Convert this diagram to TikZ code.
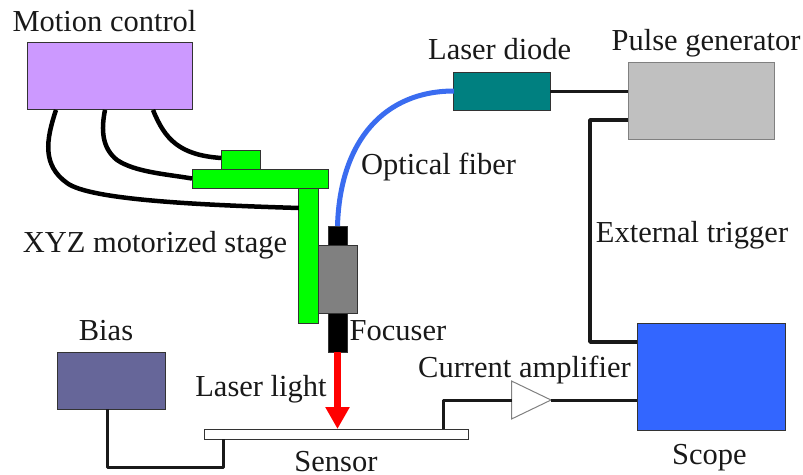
\documentclass[tikz,border=0pt]{standalone}
\usepackage{fontspec}
\setmainfont{Liberation Serif}
\usetikzlibrary{shapes.geometric,arrows.meta}
\definecolor{cpurple}{HTML}{CC99FF}
\definecolor{cgreen}{HTML}{00FF00}
\definecolor{cteal}{HTML}{008080}
\definecolor{clgray}{HTML}{C0C0C0}
\definecolor{cmgray}{HTML}{808080}
\definecolor{cblue}{HTML}{3366FF}
\definecolor{cbias}{HTML}{666699}
\definecolor{cfiber}{HTML}{3A6CF0}
\definecolor{cedge}{HTML}{333333}
\tikzset{
  box/.style={draw=cedge,line width=1pt,inner sep=0pt,outer sep=0pt,rectangle},
  lbl/.style={anchor=base,inner sep=0pt,outer sep=0pt,font=\fontsize{30.5}{31}\selectfont,text=black!90},
  cable/.style={draw=black,line width=4.5pt},
  wire/.style={draw=black!90,line width=3pt,line join=round},
}
\begin{document}
\begin{tikzpicture}[x=1pt,y=-1pt]
\useasboundingbox (0,0) rectangle (803,474);
% boxes
\node[box,fill=cpurple,minimum width=165pt,minimum height=67.5pt] (motion) at (110,76.2) {};
\node[box,fill=cgreen,minimum width=39pt,minimum height=19pt] (stageA) at (240.5,159.5) {};
\node[box,fill=cgreen,minimum width=136pt,minimum height=19pt] (stageB) at (260,178.5) {};
\node[box,fill=cgreen,minimum width=19.5pt,minimum height=135pt] (stageC) at (308.7,255.5) {};
\node[box,fill=black,minimum width=19pt,minimum height=20pt] (focTop) at (337.5,236) {};
\node[box,fill=black,minimum width=19pt,minimum height=39pt] (focBot) at (337.5,332.5) {};
\node[box,fill=cmgray,minimum width=39pt,minimum height=67.5pt] (focuser) at (337.5,279.7) {};
\node[box,fill=white,minimum width=264pt,minimum height=10pt] (sensor) at (336,434) {};
\node[box,fill=cbias,minimum width=107.5pt,minimum height=57pt] (bias) at (111.7,380.5) {};
\node[box,fill=cblue,minimum width=148pt,minimum height=107pt] (scope) at (711,376.5) {};
\node[box,fill=cteal,minimum width=96.5pt,minimum height=38pt] (diode) at (502.2,91) {};
\node[box,draw=cmgray,fill=clgray,minimum width=146pt,minimum height=77pt] (pulse) at (701,100.5) {};
\node[draw=cmgray,line width=1pt,fill=white,isosceles triangle,isosceles triangle stretches,shape border rotate=0,minimum width=38pt,minimum height=39.5pt,inner sep=0pt,outer sep=0pt,anchor=apex] (amp) at (551,400) {};
% cables
\draw[cable] ([xshift=-54pt]motion.south) .. controls (46,140) and (42,165) .. (67,183) .. controls (90,200) and (200,205) .. ([yshift=47.5pt]stageC.west);
\draw[cable] ([xshift=-5pt]motion.south) .. controls (101,130) and (102,148) .. (117,160) .. controls (135,172) and (165,174) .. (stageB.west);
\draw[cable] ([xshift=43pt]motion.south) .. controls (165,140) and (180,155) .. ([yshift=1.5pt]stageA.west);
\draw[draw=cfiber,line width=5pt] (focTop.north) .. controls (340,140) and (385,91) .. (diode.west);
\draw[wire] (diode.east) -- (diode.east -| pulse.west);
\draw[wire,line width=3.5pt] ([yshift=-19.5pt]pulse.west) -| (590,342) -- (590,342 -| scope.west);
\draw[wire] ([xshift=-4.2pt]bias.south) -- (107.5,467) -- (223.5,467) -- ([xshift=-112.5pt]sensor.south);
\draw[wire] ([xshift=107.5pt]sensor.north) -- (443.5,400) -- (amp.west);
\draw[wire] (amp.apex) -- (amp.apex -| scope.west);
\draw[draw=red,line width=7pt,-{Triangle[width=23pt,length=22pt]}] (focBot.south) -- (focBot.south |- sensor.north);
% labels
\node[lbl] (tMotion) at (104.5,31) {Motion control};
\node[lbl] (tDiode) at (499.7,59) {Laser diode};
\node[lbl] (tPulse) at (706,50) {Pulse generator};
\node[lbl] (tFiber) at (438.5,174) {Optical fiber};
\node[lbl] (tStage) at (155,252) {XYZ motorized stage};
\node[lbl] (tTrigger) at (692,242) {External trigger};
\node[lbl] (tFocuser) at (398,340) {Focuser};
\node[lbl] (tBias) at (106,340) {Bias};
\node[lbl] (tLight) at (261,396) {Laser light};
\node[lbl] (tAmp) at (524.5,377) {Current amplifier};
\node[lbl] (tSensor) at (336,471) {Sensor};
\node[lbl] (tScope) at (709.5,464) {Scope};
\end{tikzpicture}
\end{document}
